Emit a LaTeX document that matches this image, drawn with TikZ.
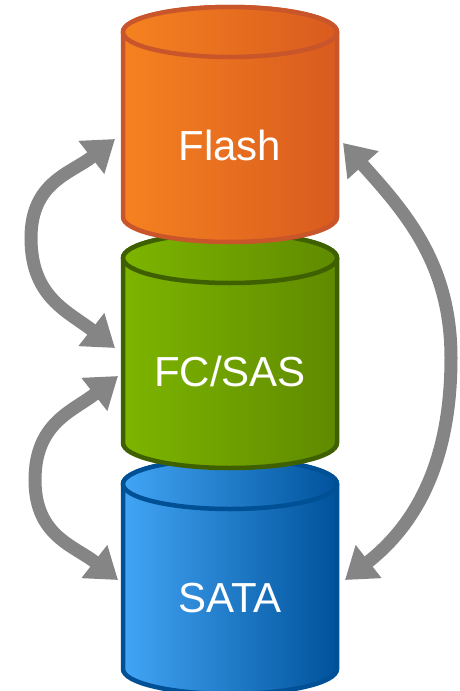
\documentclass[tikz,border=0pt]{standalone}
\usepackage{fontspec}
\setmainfont{Liberation Sans}
\usetikzlibrary{arrows.meta}

\definecolor{flashL}{HTML}{F58220}
\definecolor{flashR}{HTML}{D95B1F}
\definecolor{flashB}{HTML}{C9552A}
\definecolor{fcL}{HTML}{7DB500}
\definecolor{fcR}{HTML}{5F8A00}
\definecolor{fcB}{HTML}{3E6000}
\definecolor{sataL}{HTML}{42A5F5}
\definecolor{sataR}{HTML}{00529B}
\definecolor{sataB}{HTML}{005096}
\definecolor{swap}{HTML}{858585}

\tikzset{
  tierlabel/.style={text=white,font=\fontsize{42}{48}\selectfont,inner sep=0pt,anchor=base},
  swaparrow/.style={draw=swap,line width=13pt,
    {Triangle[width=40pt,length=30pt]}-{Triangle[width=40pt,length=30pt]}}
}

% #1 name, #2 y of top centre, #3 left colour, #4 right colour, #5 border, #6 text
\newcommand{\tier}[6]{%
  \draw[draw=#5,line width=4.5pt,left color=#3,right color=#4]
    (123,#2) -- (123,{#2-185})
    arc[start angle=180,end angle=360,x radius=107,y radius=25]
    -- (337,#2) arc[start angle=0,end angle=180,x radius=107,y radius=25] -- cycle;
  \draw[draw=#5,line width=4.5pt,left color=#3,right color=#4]
    (230,#2) ellipse[x radius=107,y radius=25];
  \node[tierlabel] (#1) at (230,{#2-128}) {#6};
}

\begin{document}
\begin{tikzpicture}[x=1pt,y=1pt]
    \useasboundingbox (0,0) rectangle (459,-691);
    % tiers, bottom first
    \tier{sata}{-484}{sataL}{sataR}{sataB}{SATA}
    \tier{fcsas}{-258}{fcL}{fcR}{fcB}{FC/SAS}
    \tier{flash}{-32}{flashL}{flashR}{flashB}{Flash}
    % arrow ends and turning points
    \coordinate (flashW) at (115,-139);
    \coordinate (fcsasWu) at (115,-348);
    \coordinate (fcsasWd) at (118,-376);
    \coordinate (sataW) at (118,-580);
    \coordinate (flashE) at (343,-143);
    \coordinate (sataE) at (345,-580);
    \coordinate (loopNW) at (31,-238);
    \coordinate (loopSW) at (35,-480);
    \coordinate (loopE) at (451,-358);
    % arrows
    \draw[swaparrow] (flashW) to[out=218,in=90,looseness=1.1] (loopNW)
                     to[out=-90,in=142,looseness=1.1] (fcsasWu);
    \draw[swaparrow] (fcsasWd) to[out=218,in=90,looseness=1.1] (loopSW)
                     to[out=-90,in=142,looseness=1.1] (sataW);
    \draw[swaparrow] (flashE) to[out=-48,in=90] (loopE)
                     to[out=-90,in=38] (sataE);
\end{tikzpicture}
\end{document}
